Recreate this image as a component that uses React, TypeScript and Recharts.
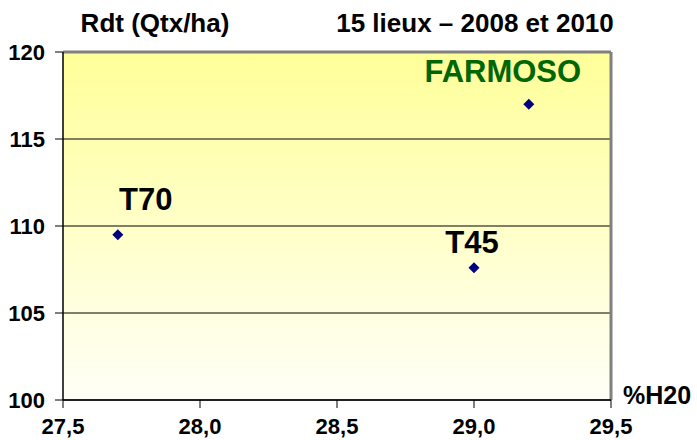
import React from "react";
import {
  CartesianGrid,
  LabelList,
  ReferenceLine,
  Scatter,
  ScatterChart,
  XAxis,
  YAxis,
} from "recharts";

// % humidité à la récolte vs rendement
const varieties = ["T70", "T45", "FARMOSO"];
const humidity = [27.7, 29.0, 29.2];
const yields = [109.5, 107.6, 117.0];

const xTicks = [27.5, 28.0, 28.5, 29.0, 29.5];
const yTicks = [100, 105, 110, 115, 120];

const points = varieties.map((name, i) => ({
  name,
  x: humidity[i],
  y: yields[i],
}));

// label placement relative to each point
const labelStyle: Record<string, { dx: number; dy: number; color: string }> = {
  T70: { dx: 28, dy: -25, color: "#000000" },
  T45: { dx: -2, dy: -15, color: "#000000" },
  FARMOSO: { dx: -26, dy: -22, color: "#006600" },
};

const font = "'Liberation Sans', Arial, sans-serif";

const Diamond = (props: any) => {
  const { cx, cy } = props;
  const r = 5.5;
  return (
    <path
      d={`M${cx},${cy - r}L${cx + r},${cy}L${cx},${cy + r}L${cx - r},${cy}Z`}
      fill="#000080"
    />
  );
};

const PointLabel = (props: any) => {
  const { x, y, width, height, value } = props;
  const s = labelStyle[value];
  if (!s) return null;
  const cx = x + (width ?? 0) / 2;
  const cy = y + (height ?? 0) / 2;
  return (
    <text
      x={cx + s.dx}
      y={cy + s.dy}
      textAnchor="middle"
      fill={s.color}
      fontSize={31}
      fontWeight="bold"
      fontFamily={font}
    >
      {value}
    </text>
  );
};

export default function App() {
  return (
    <div
      style={{
        position: "absolute",
        left: 0,
        top: 0,
        width: 697,
        height: 440,
        background: "#ffffff",
        fontFamily: font,
      }}
    >
      <svg width={0} height={0} style={{ position: "absolute" }}>
        <defs>
          <linearGradient id="bgFill" x1="0" y1="0" x2="0" y2="1">
            <stop offset="0%" stopColor="#FFFF99" />
            <stop offset="100%" stopColor="#FFFFF8" />
          </linearGradient>
        </defs>
      </svg>
      <ScatterChart
        width={697}
        height={440}
        margin={{ top: 52, right: 86, bottom: 0, left: 0 }}
      >
        <CartesianGrid
          vertical={false}
          stroke="#000000"
          strokeOpacity={1}
          fill="url(#bgFill)"
          fillOpacity={1}
        />
        <XAxis
          type="number"
          dataKey="x"
          domain={[27.5, 29.5]}
          ticks={xTicks}
          tickFormatter={(v: number) => v.toFixed(1).replace(".", ",")}
          tick={{ fontSize: 22, fontWeight: "bold", fill: "#000", fontFamily: font, dy: 8 }}
          tickLine={{ stroke: "#000" }}
          tickSize={8}
          axisLine={{ stroke: "#000", strokeWidth: 1.5 }}
          height={40}
          interval={0}
        />
        <YAxis
          type="number"
          dataKey="y"
          domain={[100, 120]}
          ticks={yTicks}
          tick={{ fontSize: 22, fontWeight: "bold", fill: "#000", fontFamily: font, dx: -8 }}
          tickLine={{ stroke: "#000" }}
          tickSize={8}
          axisLine={{ stroke: "#000", strokeWidth: 1.5 }}
          width={63}
          interval={0}
        />
        <ReferenceLine y={120} stroke="#808080" strokeWidth={3} />
        <ReferenceLine x={29.5} stroke="#808080" strokeWidth={3} />
        <Scatter data={points} shape={Diamond} isAnimationActive={false}>
          <LabelList dataKey="name" content={PointLabel} />
        </Scatter>
        <text x={155} y={32} textAnchor="middle" fontSize={26} fontWeight="bold" fontFamily={font} fill="#000">
          Rdt (Qtx/ha)
        </text>
        <text x={475} y={32} textAnchor="middle" fontSize={26} fontWeight="bold" fontFamily={font} fill="#000">
          15 lieux – 2008 et 2010
        </text>
        <text x={657} y={404} textAnchor="middle" fontSize={25} fontWeight="bold" fontFamily={font} fill="#000">
          %H20
        </text>
      </ScatterChart>
    </div>
  );
}
